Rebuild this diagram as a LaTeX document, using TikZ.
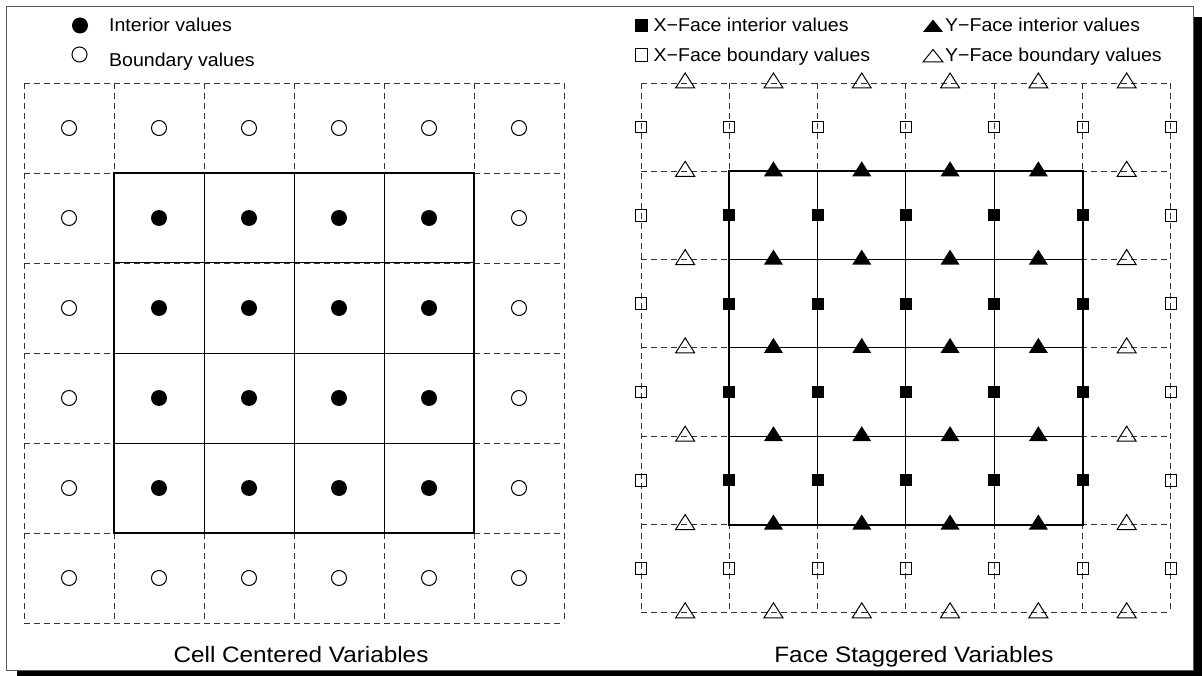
\documentclass[tikz,border=0pt]{standalone}
\usepackage{fontspec}
\setmainfont{Liberation Sans}
\usepackage{graphicx}
\newcommand\legtext[1]{\scalebox{1.05}[1]{#1}}
\newcommand\captext[1]{\scalebox{1.09}[1]{#1}}
\begin{document}
\begin{tikzpicture}[x=1pt,y=-1pt,
  gridline/.style={black!80, line width=0.9pt, dash pattern=on 6pt off 4pt},
  innerline/.style={black, line width=1pt},
  outline/.style={black, line width=2pt},
  openmark/.style={draw=black, line width=1pt},
  legend/.style={font=\fontsize{18.6}{22}\selectfont, inner sep=0pt, anchor=base west},
  caption/.style={font=\fontsize{22.3}{26}\selectfont, inner sep=0pt, anchor=base},
  pics/tri/.style={code={\path[pic actions] (-9.5,5) -- (9.5,5) -- (0,-10) -- cycle;}},
  pics/legtri/.style={code={\path[pic actions] (-10,0) -- (10,0) -- (0,-12.5) -- cycle;}}
]
\useasboundingbox (0,0) rectangle (1202,676);

% drop shadow and white panel
\fill[black] (17,17) rectangle (1210,690);
\draw[fill=white, draw=black!65, line width=1pt] (6.5,6.5) rectangle (1193,670);

% ---------------- cell centered grid ----------------
\foreach \i in {0,...,6}{
  \draw[gridline] (24+90*\i,83) -- (24+90*\i,623);
  \draw[gridline] (24,83+90*\i) -- (564,83+90*\i);
}
\foreach \i in {2,3,4}{
  \draw[innerline] (24+90*\i,173) -- (24+90*\i,533);
  \draw[innerline] (114,83+90*\i) -- (474,83+90*\i);
}
\draw[outline] (114,173) rectangle (474,533);
\foreach \i in {0,...,5}{
  \foreach \j in {0,...,5}{
    \pgfmathtruncatemacro\inner{(\i>0)&&(\i<5)&&(\j>0)&&(\j<5)}
    \ifnum\inner=1
      \fill (69+90*\i,128+90*\j) circle[radius=8];
    \else
      \draw[openmark] (69+90*\i,128+90*\j) circle[radius=7.5];
    \fi
  }
}

% ---------------- face staggered grid ----------------
\def\hx{641}\def\hy{83}\def\hs{88.3}
\foreach \i in {0,...,6}{
  \draw[gridline] (\hx+\hs*\i,\hy) -- (\hx+\hs*\i,\hy+6*\hs);
  \draw[gridline] (\hx,\hy+\hs*\i) -- (\hx+6*\hs,\hy+\hs*\i);
}
\foreach \i in {2,3,4}{
  \draw[innerline] (\hx+\hs*\i,\hy+\hs) -- (\hx+\hs*\i,\hy+5*\hs);
  \draw[innerline] (\hx+\hs,\hy+\hs*\i) -- (\hx+5*\hs,\hy+\hs*\i);
}
\draw[outline] (\hx+\hs,\hy+\hs) rectangle (\hx+5*\hs,\hy+5*\hs);
% x-face values on vertical lines
\foreach \i in {0,...,6}{
  \foreach \j in {0,...,5}{
    \pgfmathsetmacro\px{\hx+\hs*\i}
    \pgfmathsetmacro\py{\hy+\hs*(\j+0.5)}
    \pgfmathtruncatemacro\inner{(\i>0)&&(\i<6)&&(\j>0)&&(\j<5)}
    \ifnum\inner=1
      \fill (\px-6,\py-6) rectangle (\px+6,\py+6);
    \else
      \draw[openmark] (\px-5.5,\py-5.8) rectangle (\px+5.5,\py+5.8);
    \fi
  }
}
% y-face values on horizontal lines
\foreach \i in {0,...,5}{
  \foreach \j in {0,...,6}{
    \pgfmathsetmacro\px{\hx+\hs*(\i+0.5)}
    \pgfmathsetmacro\py{\hy+\hs*\j}
    \pgfmathtruncatemacro\inner{(\i>0)&&(\i<5)&&(\j>0)&&(\j<6)}
    \ifnum\inner=1
      \pic[fill=black] at (\px,\py) {tri};
    \else
      \pic[openmark] at (\px,\py) {tri};
    \fi
  }
}

% ---------------- legends ----------------
\fill (80,25.5) circle[radius=8];
\draw[openmark] (79.5,54.5) circle[radius=7.5];
\node[legend] (lint) at (109,31.7) {\legtext{Interior values}};
\node[legend] (lbnd) at (109,66.7) {\legtext{Boundary values}};

\fill (635,19) rectangle (648,32);
\draw[openmark] (635,49) rectangle (647.5,61.5);
\node[legend] (xint) at (653.5,32) {\legtext{X−Face interior values}};
\node[legend] (xbnd) at (653.5,62) {\legtext{X−Face boundary values}};

\pic[fill=black] at (933,32) {legtri};
\pic[openmark] at (933,62) {legtri};
\node[legend] (yint) at (945,32) {\legtext{Y−Face interior values}};
\node[legend] (ybnd) at (945,62) {\legtext{Y−Face boundary values}};

% ---------------- captions ----------------
\node[caption] (capL) at (301,662) {\captext{Cell Centered Variables}};
\node[caption] (capR) at (914,662) {\captext{Face Staggered Variables}};
\end{tikzpicture}
\end{document}
